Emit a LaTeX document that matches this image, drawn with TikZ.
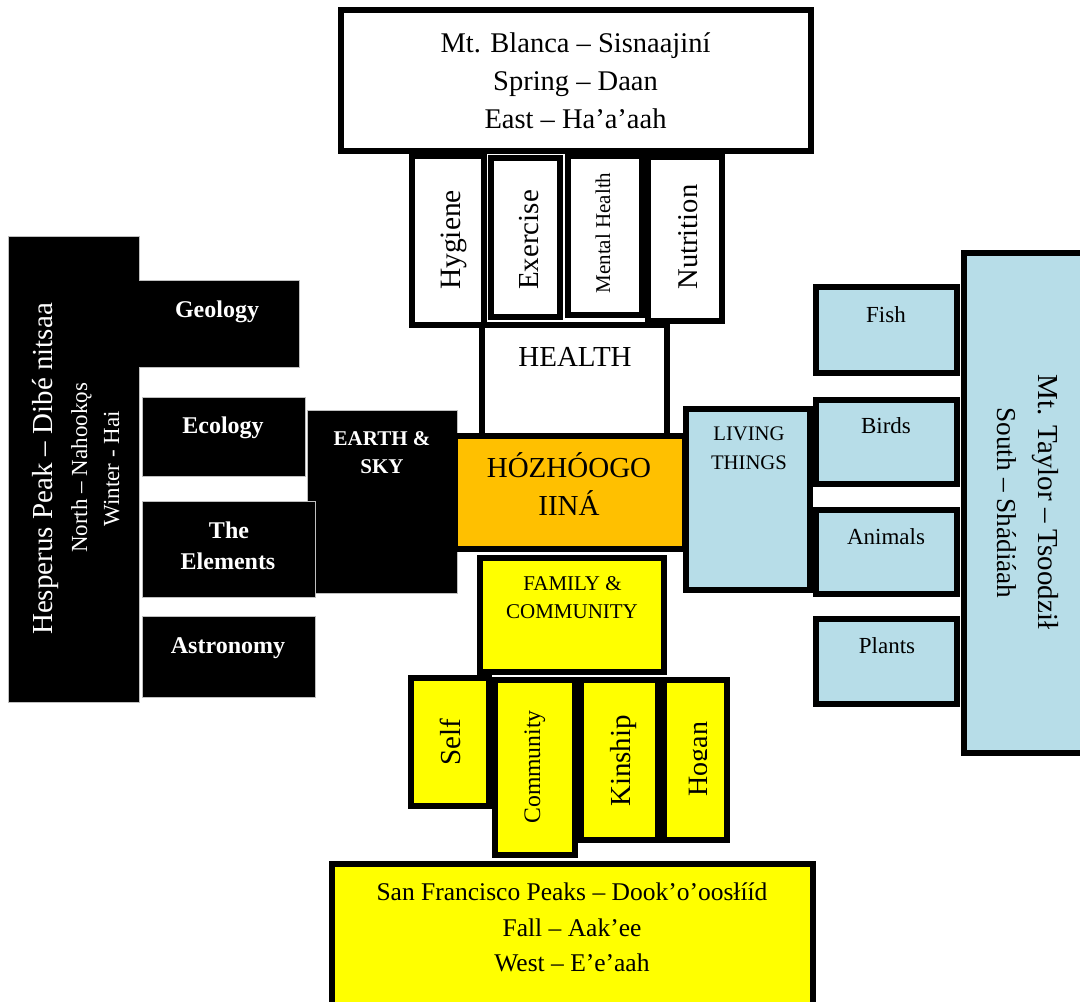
\documentclass[tikz,border=0pt]{standalone}
\usepackage{fontspec}
\setmainfont{Liberation Serif}
\newcommand{\setfs}[1]{\fontsize{#1}{#1}\selectfont}
\definecolor{hyellow}{HTML}{FFFF00}
\definecolor{horange}{HTML}{FFC000}
\definecolor{hblue}{HTML}{B7DDE8}
\definecolor{hgray}{HTML}{BFBFBF}
\begin{document}
\begin{tikzpicture}[x=1pt,y=-1pt,
  wbox/.style={draw=black,line width=5.5pt,fill=white},
  ybox/.style={draw=black,line width=5.5pt,fill=hyellow},
  bbox/.style={draw=black,line width=5.5pt,fill=hblue},
  obox/.style={draw=black,line width=5.5pt,fill=horange},
  kbox/.style={draw=hgray,line width=1pt,fill=black},
  t/.style={anchor=base,inner sep=0pt,text=black},
  wt/.style={anchor=base,inner sep=0pt,text=white},
  wbt/.style={anchor=base,inner sep=0pt,text=white,font=\bfseries\setfs{24}},
]
\useasboundingbox (0,0) rectangle (1080,1002);
\clip (0,0) rectangle (1080,1002);
\fill[white] (0,0) rectangle (1080,1002);

% ---- North (left, black) ----
\path[kbox] (8,236) -- (139,236) -- (139,280) -- (299,280) -- (299,367) -- (139,367) -- (139,702) -- (8,702) -- cycle;
\path[kbox] (142,397) rectangle (305,476);
\path[kbox] (307,410) rectangle (457,593);
\path[kbox] (142,501) rectangle (315,597);
\path[kbox] (142,616) rectangle (315,697);

\node[wt,rotate=90,font=\setfs{29}] (hesp1) at (52,469) {Hesperus Peak – Dibé nitsaa};
\node[wt,rotate=90,font=\setfs{23}] (hesp2) at (87,468) {North – Nahookǫs};
\node[wt,rotate=90,font=\setfs{23}] (hesp3) at (119,469) {Winter - Hai};
\node[wbt] (geol) at (217,317) {Geology};
\node[wbt] (ecol) at (223,433) {Ecology};
\node[wbt] (elem1) at (229,538) {The};
\node[wbt] (elem2) at (228,569) {Elements};
\node[wbt] (astr) at (228,653) {Astronomy};
\node[wt,font=\bfseries\setfs{21}] (earth1) at (382,445) {EARTH \&};
\node[wt,font=\bfseries\setfs{21}] (earth2) at (382,473) {SKY};

% ---- East (top, white) ----
\path[wbox,line width=6.5pt] (341,10) rectangle (811,151);
\path[wbox] (412,156) rectangle (484,325);
\path[wbox] (491,158) rectangle (560,317);
\path[wbox] (568,156) rectangle (642,315);
\path[wbox] (648,157) rectangle (722,321);
\path[wbox] (482,325) rectangle (667,437);

\node[t,font=\setfs{28.5}] (mb1) at (575.5,52) {Mt. Blanca – Sisnaajiní};
\node[t,font=\setfs{28.5}] (mb2) at (575.5,90) {Spring – Daan};
\node[t,font=\setfs{28.5}] (mb3) at (575.5,128) {East – Ha’a’aah};
\node[t,rotate=90,font=\setfs{29.5}] (hyg) at (460,240) {Hygiene};
\node[t,rotate=90,font=\setfs{29}] (exe) at (538,240) {Exercise};
\node[t,rotate=90,font=\setfs{21}] (men) at (610,233) {Mental Health};
\node[t,rotate=90,font=\setfs{28.6}] (nut) at (697,237) {Nutrition};
\node[t,font=\setfs{29}] (health) at (575,366) {HEALTH};

% ---- Centre ----
\path[obox] (455,436) rectangle (685,549);
\node[t,font=\setfs{29}] (hoz1) at (569,477) {HÓZHÓOGO};
\node[t,font=\setfs{29}] (hoz2) at (569,515) {IINÁ};

% ---- South (right, blue) ----
\path[bbox] (686,409) rectangle (810,590);
\path[bbox] (816,287) rectangle (957,373);
\path[bbox] (816,400) rectangle (957,484);
\path[bbox] (816,510) rectangle (957,594);
\path[bbox] (816,619) rectangle (957,704);
\path[bbox] (964,253) rectangle (1095,753);

\node[t,font=\setfs{20.7}] (liv1) at (749,440) {LIVING};
\node[t,font=\setfs{20.7}] (liv2) at (749,469) {THINGS};
\node[t,font=\setfs{23}] (fish) at (886,322) {Fish};
\node[t,font=\setfs{23}] (birds) at (886,433) {Birds};
\node[t,font=\setfs{23}] (anim) at (886,544) {Animals};
\node[t,font=\setfs{23}] (plan) at (887,653) {Plants};
\node[t,rotate=-90,font=\setfs{29}] (mt1) at (1038,502) {Mt. Taylor – Tsoodził};
\node[t,rotate=-90,font=\setfs{27.3}] (mt2) at (997,503) {South – Shádiáah};

% ---- West (bottom, yellow) ----
\path[ybox] (480,558) rectangle (664,672);
\path[ybox] (411,678) rectangle (489,806);
\path[ybox] (495,680) rectangle (575,855);
\path[ybox] (581,680) rectangle (658,840);
\path[ybox] (664,680) rectangle (727,840);
\path[ybox] (332,864) rectangle (813,1012);

\node[t,font=\setfs{21}] (fam1) at (572.5,590) {FAMILY \&};
\node[t,font=\setfs{21}] (fam2) at (572,618) {COMMUNITY};
\node[t,rotate=90,font=\setfs{29}] (self) at (460,742) {Self};
\node[t,rotate=90,font=\setfs{23.7}] (comm) at (540,767) {Community};
\node[t,rotate=90,font=\setfs{29}] (kin) at (630,761) {Kinship};
\begin{scope}
\clip (667,683) rectangle (706,837);
\node[t,rotate=90,font=\setfs{28}] (hogan) at (707,759) {Hogan};
\end{scope}
\node[t,font=\setfs{25.5}] (sf1) at (572,900) {San Francisco Peaks – Dook’o’oosłííd};
\node[t,font=\setfs{25.5}] (sf2) at (572,936) {Fall – Aak’ee};
\node[t,font=\setfs{25.5}] (sf3) at (572,971) {West – E’e’aah};
\end{tikzpicture}
\end{document}
